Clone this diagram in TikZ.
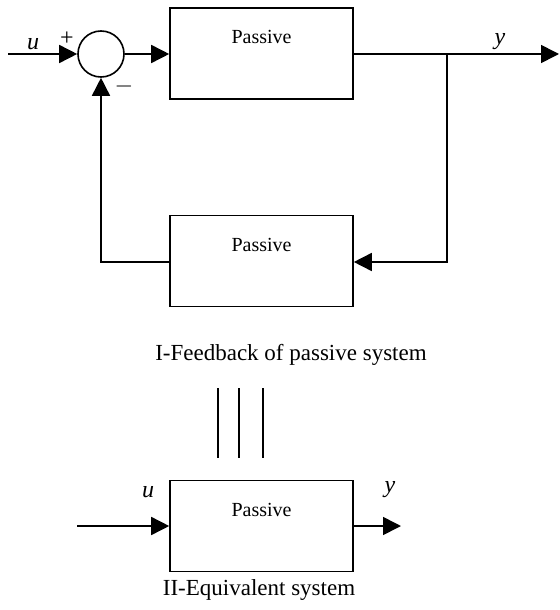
\documentclass[tikz,border=0pt]{standalone}
\usepackage{fontspec}
\setmainfont{Liberation Serif}
\usetikzlibrary{arrows.meta}

\begin{document}
\begin{tikzpicture}[x=0.5pt, y=-0.5pt, font=\normalsize, line width=0.8pt,
  blk/.style={draw, minimum width=91.5pt, minimum height=45.5pt, inner sep=0pt},
  sig/.style={font=\large\itshape},
  captxt/.style={font=\fontsize{11.5}{13}\selectfont},
  tip/.style={-{Triangle[length=9pt,width=9pt]}}]
  \useasboundingbox (0,0) rectangle (559,610);
  % feedback loop
  \node[draw, circle, minimum size=23pt, inner sep=0pt] (s) at (101,54) {};
  \node[blk] (p1) at (261.5,53.5) {};
  \node[anchor=north] (t1) at ([yshift=-8pt]p1.north) {Passive};
  \node[blk] (p2) at (261.5,261) {};
  \node[anchor=north] (t2) at ([yshift=-8pt]p2.north) {Passive};
  \coordinate (in1) at (8,54);
  \coordinate (out1) at (559,54);
  \coordinate (br) at (447,54);
  \coordinate (fb1) at (447,262);
  \coordinate (fb2) at (101,262);
  \draw[tip] (in1) -- (s.west);
  \draw[tip] (s.east) -- (p1.west |- s.east);
  \draw[tip] (p1.east |- br) -- (out1);
  \draw[tip] (br) -- (fb1) -- (p2.east |- fb1);
  \draw[tip] (p2.west |- fb2) -- (fb2) -- (s.south);
  \node[sig] (u1) at (33,44) {u};
  \node[font=\large] (pl) at (67,39) {+};
  \node[font=\large] (mi) at (124,87) {$-$};
  \node[sig] (y1) at (500,42) {y};
  \node[captxt] (c1) at (291,355) {I-Feedback of passive system};
  % equivalence
  \draw (218,388) -- (218,458);
  \draw (239,388) -- (239,458);
  \draw (263,388) -- (263,458);
  % equivalent system
  \node[blk] (p3) at (261.5,526) {};
  \node[anchor=north] (t3) at ([yshift=-8pt]p3.north) {Passive};
  \coordinate (in2) at (77,526);
  \coordinate (out2) at (401,526);
  \draw[tip] (in2) -- (p3.west);
  \draw[tip] (p3.east) -- (out2);
  \node[sig] (u2) at (148,492) {u};
  \node[sig] (y2) at (390,490) {y};
  \node[captxt] (c2) at (259,590) {II-Equivalent system};
\end{tikzpicture}
\end{document}
